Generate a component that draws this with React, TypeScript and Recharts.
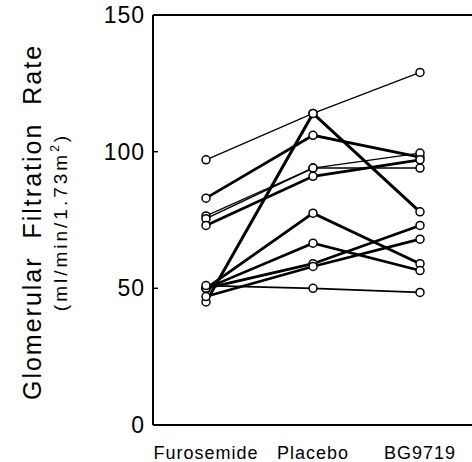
import { Label, Line, LineChart, ReferenceLine, XAxis, YAxis } from 'recharts'

const stages = ['Furosemide', 'Placebo', 'BG9719']

// one row per patient: GFR under furosemide, placebo, BG9719
const patientA = [97, 114, 129]
const patientB = [83, 106, 98]
const patientC = [76.5, 94, 99.5]
const patientD = [75.5, 94, 94]
const patientE = [73, 91, 97]
const patientF = [45, 114, 78]
const patientG = [50, 77.5, 59]
const patientH = [50, 66.5, 56.5]
const patientI = [50, 59, 73]
const patientJ = [47, 58, 68]
const patientK = [51, 50, 48.5]

const patients = [
  { key: 'a', values: patientA, width: 1.2 },
  { key: 'b', values: patientB, width: 2.8 },
  { key: 'c', values: patientC, width: 1.2 },
  { key: 'd', values: patientD, width: 1.6 },
  { key: 'e', values: patientE, width: 2.8 },
  { key: 'f', values: patientF, width: 3 },
  { key: 'g', values: patientG, width: 2.8 },
  { key: 'h', values: patientH, width: 2.6 },
  { key: 'i', values: patientI, width: 2.8 },
  { key: 'j', values: patientJ, width: 2.6 },
  { key: 'k', values: patientK, width: 1.8 }
]

const yTicks = [0, 50, 100, 150]

const data = stages.map((stage, i) => {
  const row: Record<string, string | number> = { stage }
  patients.forEach((p) => {
    row[p.key] = p.values[i]
  })
  return row
})

const FONT = '"Liberation Sans", Arial, Helvetica, sans-serif'

// rotated axis title + units, drawn in absolute chart coords
function AxisTitle(): React.JSX.Element {
  return (
    <g>
      <text
        x={41}
        y={222}
        transform="rotate(-90 41 222)"
        textAnchor="middle"
        fontFamily={FONT}
        fontSize={25}
        letterSpacing={2}
        fill="#000"
      >
        {'Glomerular\u00a0\u00a0Filtration\u00a0\u00a0Rate'}
      </text>
      <text
        x={67}
        y={222}
        transform="rotate(-90 67 222)"
        textAnchor="middle"
        fontFamily={FONT}
        fontSize={19}
        letterSpacing={3}
        fill="#000"
      >
        (ml/min/1.73m<tspan fontSize={12} dy={-8}>2</tspan>
        <tspan dy={8}>)</tspan>
      </text>
    </g>
  )
}

export default function App(): React.JSX.Element {
  return (
    <div style={{ position: 'absolute', left: 0, top: 0, background: '#fff' }}>
      <LineChart
        width={472}
        height={462}
        data={data}
        margin={{ top: 15, right: 0, left: 0, bottom: 0 }}
      >
        <XAxis
          dataKey="stage"
          height={37}
          padding={{ left: 53, right: 52 }}
          axisLine={{ stroke: '#000', strokeWidth: 2 }}
          tickLine={false}
          tickMargin={15}
          tick={{ fill: '#000', fontSize: 18, fontFamily: FONT, letterSpacing: 1 }}
          interval={0}
        />
        <YAxis
          width={153}
          domain={[0, 150]}
          ticks={yTicks}
          axisLine={{ stroke: '#000', strokeWidth: 2 }}
          tickLine={{ stroke: '#000', strokeWidth: 1.5 }}
          tickSize={-5}
          tickMargin={13}
          tick={{ fill: '#000', fontSize: 23, fontFamily: FONT, letterSpacing: 1 }}
        >
          <Label content={() => <AxisTitle />} />
        </YAxis>
        <ReferenceLine y={150} stroke="#000" strokeWidth={2} />
        {patients.map((p) => (
          <Line
            key={p.key}
            dataKey={p.key}
            type="linear"
            stroke="#000"
            strokeWidth={p.width}
            dot={false}
            activeDot={false}
            isAnimationActive={false}
          />
        ))}
        {patients.map((p) => (
          <Line
            key={`${p.key}-dots`}
            dataKey={p.key}
            type="linear"
            stroke="none"
            dot={{ r: 4, fill: '#fff', stroke: '#000', strokeWidth: 1.5 }}
            activeDot={false}
            legendType="none"
            isAnimationActive={false}
          />
        ))}
      </LineChart>
    </div>
  )
}
